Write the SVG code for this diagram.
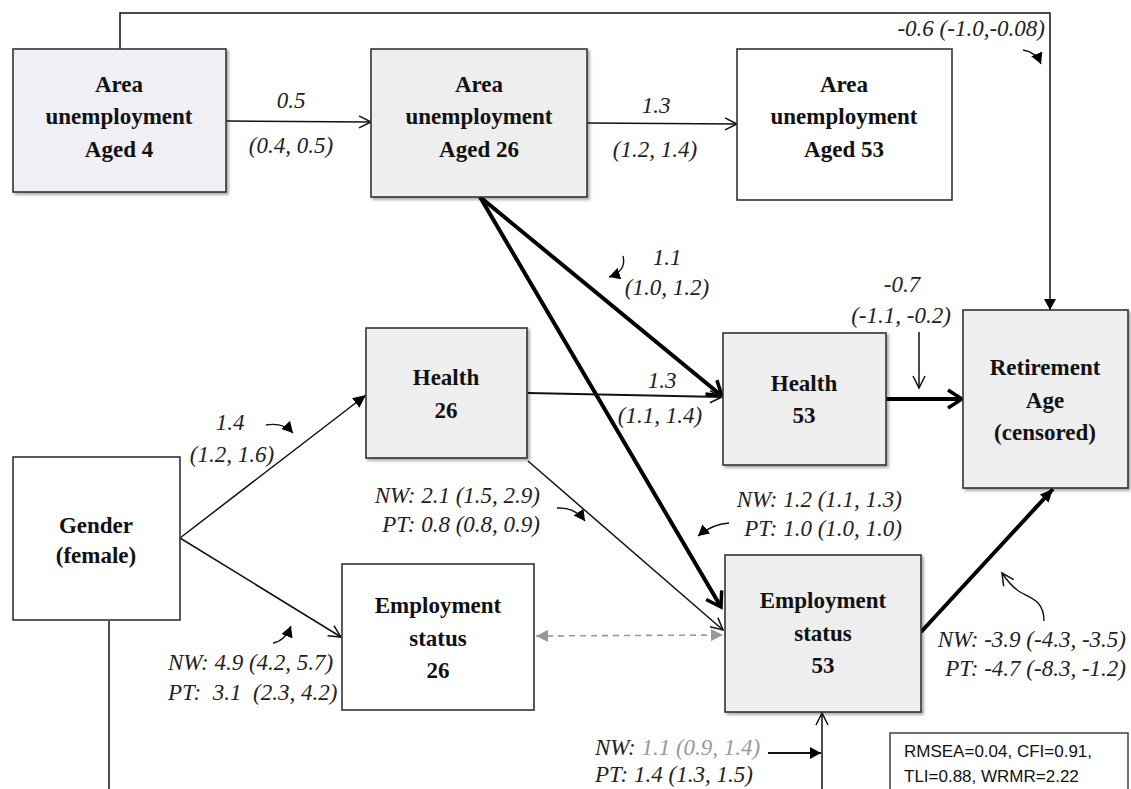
<svg xmlns="http://www.w3.org/2000/svg" width="1131" height="789" viewBox="0 0 1131 789">
<style>
.box{stroke:#333;stroke-width:1.6}
.g{fill:#eeeeee}
.w{fill:#ffffff}
.lav{fill:#efeff5}
.nt{font-family:'Liberation Serif','Tinos','Times New Roman','DejaVu Serif',serif;font-weight:bold;font-size:23px;text-anchor:middle;fill:#111}
.lt{font-family:'Liberation Serif','Tinos','Times New Roman','DejaVu Serif',serif;font-style:italic;font-size:23px;fill:#222}
.mid{text-anchor:middle}
.end{text-anchor:end}
.thin{fill:none;stroke:#111;stroke-width:1.5}
.med{fill:none;stroke:#111;stroke-width:2}
.thick{fill:none;stroke:#000;stroke-width:4}
.curve{fill:none;stroke:#111;stroke-width:1.4}
.dash{fill:none;stroke:#999;stroke-width:1.6;stroke-dasharray:6,5}
.fit{font-family:'Liberation Sans',Arial,sans-serif;font-size:17px;fill:#111}
</style>
<defs>
<filter id="sh" x="-5%" y="-5%" width="115%" height="115%">
<feDropShadow dx="2" dy="2" stdDeviation="1.5" flood-color="#000" flood-opacity="0.35"/>
</filter>
<marker id="openV" markerUnits="userSpaceOnUse" markerWidth="16" markerHeight="16" refX="13" refY="7" orient="auto">
<path d="M1,1 L13,7 L1,13" fill="none" stroke="#111" stroke-width="1.5"/>
</marker>
<marker id="chev" markerUnits="userSpaceOnUse" markerWidth="20" markerHeight="22" refX="16" refY="11" orient="auto">
<path d="M2,2 L16,11 L2,20" fill="none" stroke="#000" stroke-width="3.5"/>
</marker>
<marker id="tri" markerUnits="userSpaceOnUse" markerWidth="14" markerHeight="12" refX="13" refY="6" orient="auto">
<path d="M0,0 L13,6 L0,12 Z" fill="#000"/>
</marker>
<marker id="triS" markerUnits="userSpaceOnUse" markerWidth="12" markerHeight="12" refX="11" refY="6" orient="auto">
<path d="M0,0 L11,6 L0,12 Z" fill="#000"/>
</marker>
<marker id="grayEnd" markerUnits="userSpaceOnUse" markerWidth="14" markerHeight="12" refX="12" refY="6" orient="auto">
<path d="M0,0 L12,6 L0,12 Z" fill="#999"/>
</marker>
<marker id="grayStart" markerUnits="userSpaceOnUse" markerWidth="14" markerHeight="12" refX="0" refY="6" orient="auto">
<path d="M12,0 L0,6 L12,12 Z" fill="#999"/>
</marker>
</defs>

<g id="connectors">
<path class="thin" d="M120,49 V13 H1050 V310" marker-end="url(#triS)"/>
<line class="thin" x1="226" y1="121" x2="371" y2="122" marker-end="url(#openV)"/>
<line class="thin" x1="587" y1="123" x2="737" y2="124" marker-end="url(#openV)"/>
<line class="thick" x1="480" y1="197" x2="722" y2="396" marker-end="url(#chev)"/>
<line class="thick" x1="480" y1="197" x2="721" y2="607" marker-end="url(#chev)"/>
<line class="med" x1="528" y1="393" x2="722" y2="397" marker-end="url(#openV)"/>
<line class="thick" x1="886" y1="399" x2="962" y2="399" marker-end="url(#chev)"/>
<line class="thin" x1="180" y1="538" x2="366" y2="395" marker-end="url(#tri)"/>
<line class="thin" x1="180" y1="538" x2="341" y2="637" marker-end="url(#openV)"/>
<line class="thin" x1="528" y1="461" x2="723" y2="630" marker-end="url(#openV)"/>
<line class="dash" x1="536" y1="636" x2="723" y2="635" marker-start="url(#grayStart)" marker-end="url(#grayEnd)"/>
<line class="thick" x1="921" y1="632" x2="1053" y2="489" marker-end="url(#tri)"/>
<line class="thin" x1="109" y1="621" x2="109" y2="789"/>
<line class="thin" x1="822" y1="789" x2="822" y2="713" marker-end="url(#openV)"/>
<line class="thin" x1="919" y1="332" x2="919" y2="388" marker-end="url(#openV)"/>
<line class="med" x1="768" y1="753" x2="821" y2="753" marker-end="url(#triS)"/>
<path class="curve" d="M1023,50 Q1036,52 1041,64" marker-end="url(#triS)"/>
<path class="curve" d="M623,256 C626,268 618,274 609,277" marker-end="url(#triS)"/>
<path class="curve" d="M266,425 Q283,422 293,433" marker-end="url(#triS)"/>
<path class="curve" d="M557,508 Q575,507 585,521" marker-end="url(#triS)"/>
<path class="curve" d="M729,523 Q712,524 698,536" marker-end="url(#triS)"/>
<path class="curve" d="M273,643 Q285,641 291,626" marker-end="url(#triS)"/>
<path class="curve" d="M1044,621 C1044,600 1030,598 1020,592 C1012,587 1008,582 1002,573" marker-end="url(#openV)"/>
</g>

<g id="edge-labels">
<text class="lt end" x="1045" y="36">-0.6 (-1.0,-0.08)</text>
<text class="lt mid" x="291" y="108">0.5</text>
<text class="lt mid" x="291" y="153">(0.4, 0.5)</text>
<text class="lt mid" x="656" y="113">1.3</text>
<text class="lt mid" x="655" y="157">(1.2, 1.4)</text>
<text class="lt mid" x="667" y="265">1.1</text>
<text class="lt mid" x="667" y="295">(1.0, 1.2)</text>
<text class="lt mid" x="662" y="388">1.3</text>
<text class="lt mid" x="660" y="423">(1.1, 1.4)</text>
<text class="lt mid" x="902" y="292">-0.7</text>
<text class="lt mid" x="901" y="323">(-1.1, -0.2)</text>
<text class="lt mid" x="230" y="430">1.4</text>
<text class="lt mid" x="232" y="462">(1.2, 1.6)</text>
<text class="lt end" x="540" y="503">NW: 2.1 (1.5, 2.9)</text>
<text class="lt end" x="540" y="532">PT: 0.8 (0.8, 0.9)</text>
<text class="lt end" x="902" y="507">NW: 1.2 (1.1, 1.3)</text>
<text class="lt end" x="902" y="536">PT: 1.0 (1.0, 1.0)</text>
<text class="lt" x="168" y="670">NW: 4.9 (4.2, 5.7)</text>
<text class="lt" x="168" y="700" xml:space="preserve">PT:  3.1  (2.3, 4.2)</text>
<text class="lt end" x="1126" y="647">NW: -3.9 (-4.3, -3.5)</text>
<text class="lt end" x="1126" y="676">PT: -4.7 (-8.3, -1.2)</text>
<text class="lt" x="595" y="755">NW: <tspan fill="#999">1.1 (0.9, 1.4)</tspan></text>
<text class="lt" x="595" y="782">PT: 1.4 (1.3, 1.5)</text>
</g>

<g id="area4">
<rect class="box lav" x="13" y="49" width="213" height="143" filter="url(#sh)"/>
<text class="nt" x="119" y="92">Area</text>
<text class="nt" x="119" y="124">unemployment</text>
<text class="nt" x="119" y="157">Aged 4</text>
</g>
<g id="area26">
<rect class="box g" x="371" y="49" width="216" height="148" filter="url(#sh)"/>
<text class="nt" x="479" y="92">Area</text>
<text class="nt" x="479" y="124">unemployment</text>
<text class="nt" x="479" y="157">Aged 26</text>
</g>
<g id="area53">
<rect class="box w" x="737" y="49" width="215" height="151"/>
<text class="nt" x="844" y="92">Area</text>
<text class="nt" x="844" y="124">unemployment</text>
<text class="nt" x="844" y="157">Aged 53</text>
</g>
<g id="health26">
<rect class="box g" x="366" y="328" width="161" height="130" filter="url(#sh)"/>
<text class="nt" x="446" y="385">Health</text>
<text class="nt" x="446" y="418">26</text>
</g>
<g id="health53">
<rect class="box g" x="723" y="333" width="163" height="132" filter="url(#sh)"/>
<text class="nt" x="804" y="391">Health</text>
<text class="nt" x="804" y="423">53</text>
</g>
<g id="retirement">
<rect class="box g" x="963" y="310" width="165" height="178" filter="url(#sh)"/>
<text class="nt" x="1045" y="375">Retirement</text>
<text class="nt" x="1045" y="408">Age</text>
<text class="nt" x="1045" y="440">(censored)</text>
</g>
<g id="gender">
<rect class="box w" x="13" y="457" width="167" height="163"/>
<text class="nt" x="96" y="533">Gender</text>
<text class="nt" x="96" y="563">(female)</text>
</g>
<g id="emp26">
<rect class="box w" x="342" y="564" width="192" height="146"/>
<text class="nt" x="438" y="613">Employment</text>
<text class="nt" x="438" y="646">status</text>
<text class="nt" x="438" y="678">26</text>
</g>
<g id="emp53">
<rect class="box g" x="725" y="555" width="196" height="157" filter="url(#sh)"/>
<text class="nt" x="823" y="608">Employment</text>
<text class="nt" x="823" y="641">status</text>
<text class="nt" x="823" y="673">53</text>
</g>
<g id="fitbox">
<rect x="890" y="733" width="238" height="70" fill="#fff" stroke="#333" stroke-width="1.4"/>
<text class="fit" x="904" y="757">RMSEA=0.04, CFI=0.91,</text>
<text class="fit" x="904" y="782">TLI=0.88, WRMR=2.22</text>
</g>
</svg>
